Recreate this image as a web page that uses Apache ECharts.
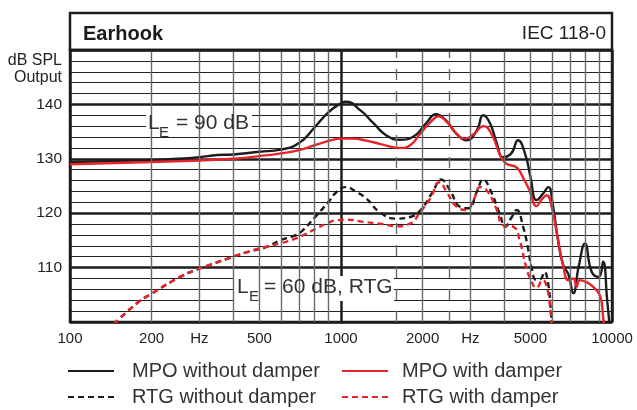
<!DOCTYPE html>
<html><head><meta charset="utf-8">
<script src="https://cdn.jsdelivr.net/npm/echarts@6/dist/echarts.min.js"></script>
<style>html,body{margin:0;padding:0;background:#fff}#c{width:637px;height:410px}</style>
</head><body><div id="c"></div>
<script>
// ---- tick labels ----
const xTickValues = [100, 200, 300, 500, 1000, 2000, 3000, 5000, 10000];
const xTickLabels = ['100', '200', 'Hz', '500', '1000', '2000', 'Hz', '5000', '10000'];
const yTickValues = [110, 120, 130, 140];
const minorFreqs = [200, 300, 400, 500, 600, 700, 800, 900, 2000, 3000, 4000, 5000, 6000, 7000, 8000, 9000];
const dashedFreqs = [1600, 2500];

// ---- MPO without damper (black solid) ----
const mpoWithoutFreq = [100, 150, 200, 250, 300, 350, 400, 500, 600, 700, 800, 900, 1000, 1040, 1180, 1320, 1470, 1650, 1840, 2060, 2240, 2435, 2670, 2900, 3170, 3350, 3550, 3760, 3960, 4250, 4500, 4800, 5000, 5270, 5550, 5820, 6050, 6300, 6600, 6900, 7200, 7530, 7950, 8420, 8940, 9270, 9600, 9900];
const mpoWithoutDb   = [129.4, 129.6, 129.8, 130.0, 130.3, 130.7, 130.8, 131.3, 131.7, 132.9, 135.8, 138.6, 140.2, 140.5, 138.9, 136.5, 134.3, 133.5, 134.0, 136.5, 138.2, 137.1, 134.6, 133.4, 135.2, 138.0, 136.5, 132.8, 130.3, 131.0, 133.4, 130.6, 126.7, 122.4, 123.5, 124.8, 121.5, 115.5, 110.5, 108.8, 105.3, 110.1, 114.4, 109.2, 108.3, 111.1, 104.0, 97.0];

// ---- MPO with damper (red solid) ----
const mpoWithFreq = [100, 200, 300, 400, 500, 600, 700, 800, 900, 1000, 1100, 1250, 1400, 1650, 1800, 1960, 2145, 2290, 2455, 2670, 2860, 3100, 3350, 3590, 3870, 4080, 4450, 4700, 4960, 5270, 5500, 5750, 6000, 6260, 6620, 6900, 7200, 7400, 7600, 8000, 8500, 9070, 9270, 9500];
const mpoWithDb   = [129.0, 129.4, 129.7, 130.0, 130.5, 131.0, 131.6, 132.5, 133.3, 133.7, 133.7, 133.3, 132.7, 132.0, 132.5, 134.6, 136.8, 137.8, 136.8, 134.6, 133.7, 134.6, 136.0, 134.6, 130.6, 129.1, 128.4, 126.5, 124.2, 121.3, 122.5, 123.3, 121.0, 116.3, 110.1, 107.7, 108.0, 106.5, 107.7, 107.4, 106.5, 104.6, 101.0, 96.0];

// ---- RTG without damper (black dashed) ----
const rtgWithoutFreq = [145, 176, 200, 255, 302, 328, 400, 461, 532, 595, 667, 706, 813, 910, 963, 1037, 1140, 1240, 1390, 1600, 1800, 1960, 2180, 2340, 2525, 2745, 2950, 3170, 3350, 3540, 3870, 4030, 4270, 4450, 4700, 4900, 5050, 5250, 5450, 5630, 5800, 5950, 6050];
const rtgWithoutDb   = [99.6, 103.4, 105.2, 108.3, 109.9, 110.5, 112.0, 113.0, 113.8, 115.0, 115.8, 116.4, 119.6, 122.4, 123.9, 124.8, 123.9, 122.7, 120.2, 119.0, 119.3, 120.5, 123.9, 126.2, 124.2, 121.2, 120.9, 123.9, 126.2, 124.5, 119.6, 117.5, 119.3, 120.6, 117.5, 113.5, 110.0, 107.8, 107.9, 109.2, 107.4, 102.0, 98.0];

// ---- RTG with damper (red dashed) ----
const rtgWithFreq = [145, 176, 200, 255, 302, 328, 400, 461, 516, 600, 685, 813, 885, 963, 1053, 1210, 1430, 1600, 1800, 1960, 2135, 2310, 2455, 2670, 2900, 3100, 3260, 3450, 3760, 3960, 4330, 4580, 4800, 5020, 5270, 5550, 5720, 5900, 6000];
const rtgWithDb   = [99.6, 103.4, 105.2, 108.3, 109.9, 110.5, 112.0, 113.0, 113.7, 114.5, 115.4, 117.2, 118.1, 118.7, 118.8, 118.4, 118.0, 117.6, 118.1, 120.2, 122.7, 125.7, 123.9, 121.2, 120.6, 122.7, 124.8, 124.2, 120.6, 117.8, 117.5, 114.7, 110.5, 107.7, 106.3, 107.7, 106.8, 103.0, 98.0];

const FONT = '"Liberation Sans", Arial, Helvetica, sans-serif';
const BLACK = '#1c1c1c';
const RED = '#e8232a';

const zip = (xs, ys) => xs.map((x, i) => [x, ys[i]]);

function curve(name, xs, ys, color, dashed) {
  return {
    name, type: 'line', data: zip(xs, ys), symbol: 'none', showSymbol: false, smooth: 0.5,
    clip: true, z: 3, silent: true,
    lineStyle: { color, width: 2.4, type: dashed ? [6, 4] : 'solid' },
    itemStyle: { color }
  };
}

const gridMarks = [];
minorFreqs.forEach(f => gridMarks.push({ xAxis: f, lineStyle: { color: '#6a6a6a', width: 1.4, type: 'solid' } }));
dashedFreqs.forEach(f => gridMarks.push({ xAxis: f, lineStyle: { color: '#6a6a6a', width: 1.4, type: [11, 11] } }));

const legendCommon = {
  orient: 'vertical', top: 361, padding: 0, itemWidth: 46, itemHeight: 14, itemGap: 6, selectedMode: false,
  itemStyle: { opacity: 0 }, lineStyle: { width: 2 }
};

const chart = echarts.init(document.getElementById('c'), null, { renderer: 'canvas' });
chart.setOption({
  animation: false,
  backgroundColor: '#fff',
  textStyle: { fontFamily: FONT },
  grid: { left: 70, right: 25, top: 50, bottom: 88, show: true, borderColor: BLACK, borderWidth: 2.5, backgroundColor: 'transparent' },
  xAxis: {
    type: 'log', logBase: 10, min: 100, max: 10000,
    axisLine: { show: false }, axisTick: { show: false },
    splitLine: { show: true, lineStyle: { color: BLACK, width: 2.5 } },
    axisLabel: {
      customValues: xTickValues,
      formatter: v => { const i = xTickValues.findIndex(t => Math.abs(t - v) / t < 1e-6); return i >= 0 ? xTickLabels[i] : ''; },
      margin: 9, fontSize: 15, color: '#222', fontFamily: FONT
    }
  },
  yAxis: {
    type: 'value', min: 100, max: 150, interval: 10,
    axisLine: { show: false }, axisTick: { show: false },
    axisLabel: { formatter: v => yTickValues.includes(v) ? String(v) : '', margin: 8, fontSize: 15.5, color: '#222', fontFamily: FONT },
    splitLine: { show: true, lineStyle: { color: BLACK, width: 2.5 } },
    minorTick: { show: false, splitNumber: 5 },
    minorSplitLine: { show: true, lineStyle: { color: '#222', width: 1.1 } }
  },
  legend: [
    Object.assign({ data: ['MPO without damper', 'RTG without damper'], left: 67,
      textStyle: { fontSize: 20, color: '#333', fontFamily: FONT, lineHeight: 20, padding: [0, 0, 0, 13] } }, legendCommon),
    Object.assign({ data: ['MPO with damper', 'RTG with damper'], left: 341,
      textStyle: { fontSize: 20, color: '#333', fontFamily: FONT, lineHeight: 20, padding: [0, 0, 0, 9] } }, legendCommon)
  ],
  series: [
    { name: 'grid', type: 'line', data: [], z: 1, silent: true,
      markLine: { silent: true, symbol: ['none', 'none'], label: { show: false }, animation: false, data: gridMarks } },
    curve('MPO without damper', mpoWithoutFreq, mpoWithoutDb, BLACK, false),
    curve('RTG without damper', rtgWithoutFreq, rtgWithoutDb, BLACK, true),
    curve('MPO with damper', mpoWithFreq, mpoWithDb, RED, false),
    curve('RTG with damper', rtgWithFreq, rtgWithDb, RED, true)
  ],
  graphic: [
    { type: 'rect', shape: { x: 70, y: 13, width: 542, height: 37 }, style: { fill: 'none', stroke: BLACK, lineWidth: 2.5 }, z: 10 },
    { type: 'text', x: 83, y: 34, style: { text: 'Earhook', font: 'bold 20px ' + FONT, fill: '#1a1a1a', verticalAlign: 'middle', align: 'left' }, z: 10 },
    { type: 'text', x: 606, y: 34, style: { text: 'IEC 118-0', font: '19px ' + FONT, fill: '#222', verticalAlign: 'middle', align: 'right' }, z: 10 },
    { type: 'text', x: 62, y: 61, style: { text: 'dB SPL', font: '16px ' + FONT, fill: '#222', verticalAlign: 'middle', align: 'right' }, z: 10 },
    { type: 'text', x: 62, y: 78, style: { text: 'Output', font: '16px ' + FONT, fill: '#222', verticalAlign: 'middle', align: 'right' }, z: 10 },
    { type: 'rect', shape: { x: 146, y: 110, width: 106, height: 25 }, style: { fill: '#fff' }, z: 5 },
    { type: 'text', x: 148, y: 123.5, style: { text: 'L', font: '21px ' + FONT, fill: '#333', verticalAlign: 'middle' }, z: 6 },
    { type: 'text', x: 159, y: 132.8, style: { text: 'E', font: '15px ' + FONT, fill: '#333', verticalAlign: 'middle' }, z: 6 },
    { type: 'text', x: 176, y: 123.5, style: { text: '= 90 dB', font: '21px ' + FONT, fill: '#333', verticalAlign: 'middle' }, z: 6 },
    { type: 'rect', shape: { x: 233, y: 276, width: 161, height: 25 }, style: { fill: '#fff' }, z: 5 },
    { type: 'text', x: 237, y: 287.5, style: { text: 'L', font: '21px ' + FONT, fill: '#333', verticalAlign: 'middle' }, z: 6 },
    { type: 'text', x: 249, y: 296.8, style: { text: 'E', font: '15px ' + FONT, fill: '#333', verticalAlign: 'middle' }, z: 6 },
    { type: 'text', x: 264, y: 287.5, style: { text: '= 60 dB, RTG', font: '21px ' + FONT, fill: '#333', verticalAlign: 'middle' }, z: 6 }
  ]
});
</script></body></html>
